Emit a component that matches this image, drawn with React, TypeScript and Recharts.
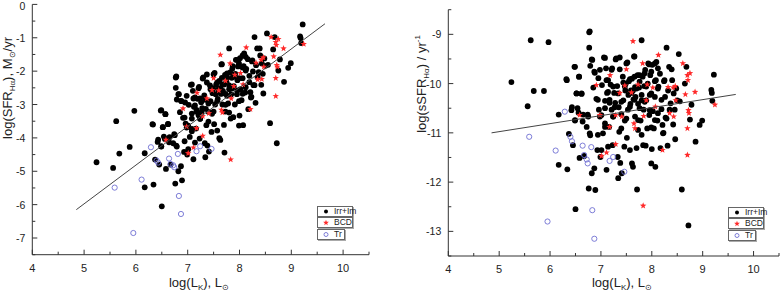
import React from 'react';
import { ScatterChart, Scatter, XAxis, YAxis } from 'recharts';

const FONT = '"Liberation Sans", Arial, sans-serif';
const AXIS = '#333';

// [log L_K, log sSFR(Hα)]
const irrIm: [number, number][] = [
  [5.24, -9.97], [5.56, -10.46], [5.62, -9.12], [5.68, -10.15], [5.88, -10.15], [5.97, -9.16],
  [6.17, -10.63], [6.17, -11.65], [6.33, -9.93], [6.34, -11.74], [6.37, -11.02], [6.43, -10.48],
  [6.45, -11.25], [6.48, -9.66], [6.49, -10.75], [6.5, -12.55], [6.52, -10.2], [6.54, -10.5],
  [6.56, -10.59], [6.57, -9.86], [6.58, -11.51], [6.62, -10.21], [6.64, -10.77], [6.65, -10.63],
  [6.67, -11.47], [6.74, -10.63], [6.76, -12.13], [6.77, -8.96], [6.78, -8.94], [6.77, -9.27],
  [6.79, -9.64], [6.78, -11.01], [6.79, -11.05], [6.82, -9.51], [6.82, -11.82], [6.85, -10.08],
  [6.87, -9.76], [6.87, -11.72], [6.89, -12.16], [6.91, -10.31], [6.93, -11.35], [6.95, -9.89],
  [6.96, -10.53], [6.98, -10.67], [6.99, -11.49], [7.01, -11.35], [7.02, -10.03], [7.04, -11.01],
  [7.06, -9.47], [7.08, -10.35], [7.08, -10.81], [7.1, -9.69], [7.11, -11.75], [7.12, -10.19],
  [7.14, -9.93], [7.14, -11.28], [7.16, -10.88], [7.17, -10.39], [7.19, -10.02], [7.21, -10.53],
  [7.22, -9.69], [7.23, -11.25], [7.24, -10.67], [7.26, -10.19], [7.28, -10.39], [7.3, -9.49],
  [7.32, -10.05], [7.33, -11.49], [7.34, -11.92], [7.35, -10.48], [7.36, -10.98], [7.37, -9.47],
  [7.38, -11.61], [7.4, -10.62], [7.41, -11.82], [7.43, -9.86], [7.44, -10.34], [7.46, -11.28],
  [7.47, -10.75], [7.48, -10.14], [7.49, -10.0], [7.51, -11.1], [7.52, -9.57], [7.53, -10.53],
  [7.54, -10.23], [7.55, -9.95], [7.57, -11.35], [7.58, -10.41], [7.59, -10.14], [7.61, -9.9],
  [7.61, -11.62], [7.63, -10.14], [7.63, -11.69], [7.64, -10.32], [7.66, -9.45], [7.67, -10.07],
  [7.67, -10.67], [7.68, -10.27], [7.7, -11.31], [7.71, -12.15], [7.72, -9.83], [7.73, -10.41],
  [7.75, -10.08], [7.76, -9.83], [7.78, -10.75], [7.8, -9.12], [7.8, -10.34], [7.82, -9.86],
  [7.83, -11.25], [7.84, -10.53], [7.85, -10.05], [7.87, -9.72], [7.88, -11.26], [7.89, -10.34],
  [7.91, -10.91], [7.92, -10.0], [7.93, -9.59], [7.95, -10.64], [7.96, -10.23], [7.97, -9.83],
  [7.99, -11.62], [8.0, -11.33], [8.01, -9.62], [8.02, -10.56], [8.04, -10.91], [8.06, -10.27],
  [8.07, -11.69], [8.08, -9.93], [8.09, -9.56], [8.11, -10.75], [8.13, -10.06], [8.16, -9.8],
  [8.17, -11.31], [8.19, -10.52], [8.21, -10.84], [8.23, -11.0], [8.24, -9.95], [8.26, -10.27],
  [8.27, -10.69], [8.29, -9.27], [8.31, -11.26], [8.32, -10.14], [8.34, -9.66], [8.35, -10.53],
  [8.37, -10.4], [8.39, -9.71], [8.4, -9.93], [8.42, -10.83], [8.43, -10.2], [8.45, -10.53],
  [8.46, -11.13], [8.48, -10.1], [8.5, -10.34], [8.53, -9.4], [8.55, -10.36], [8.59, -12.15],
  [8.65, -10.0], [8.68, -9.66], [8.72, -12.88], [8.75, -10.73], [8.78, -10.43], [8.86, -11.18],
  [8.94, -10.84], [8.99, -10.75], [9.17, -10.13], [9.18, -10.19], [9.19, -10.35], [9.22, -9.82],
  [7.08, -9.48], [7.29, -9.51], [6.83, -9.52], [7.65, -9.45], [6.49, -9.66], [7.5, -9.59],
  [8.06, -9.59], [7.95, -9.61], [6.88, -9.78], [6.98, -9.72], [7.21, -9.72], [7.37, -9.71],
  [7.66, -9.86], [7.86, -9.79], [7.99, -9.76], [8.12, -9.69], [6.32, -9.91], [6.57, -9.86],
  [7.11, -9.93], [7.44, -9.98], [7.57, -9.91], [7.76, -9.96], [8.06, -9.95], [8.25, -9.93],
  [7.24, -10.06], [7.47, -10.06], [7.7, -10.1], [7.89, -10.06], [8.12, -10.1], [6.52, -10.2],
  [6.62, -10.2], [7.14, -10.17], [7.34, -10.2], [7.6, -10.19], [7.8, -10.23], [7.99, -10.2],
  [6.94, -10.33], [7.17, -10.33], [7.4, -10.37], [7.66, -10.33], [7.86, -10.37], [8.19, -10.33],
  [7.08, -10.5], [7.27, -10.48], [7.57, -10.47], [7.76, -10.5], [7.96, -10.54], [8.12, -10.6],
  [6.42, -10.54], [6.75, -10.67], [7.01, -10.64], [7.24, -10.67], [7.5, -10.71], [7.73, -10.74],
  [8.06, -10.74], [8.29, -10.71], [6.72, -10.88], [7.08, -10.88], [7.4, -10.91], [7.73, -10.94],
  [7.99, -10.89], [6.49, -10.74], [6.94, -11.04], [7.8, -11.04], [8.22, -11.01],
];

const bcd: [number, number][] = [
  [6.58, -10.64], [6.91, -10.03], [6.98, -10.64], [7.01, -11.47], [7.11, -11.4], [7.17, -10.88],
  [7.18, -9.83], [7.29, -11.23], [7.29, -10.64], [7.37, -10.19], [7.41, -10.67], [7.47, -10.04],
  [7.5, -9.71], [7.6, -10.18], [7.63, -9.14], [7.65, -10.81], [7.67, -10.91], [7.73, -10.02],
  [7.82, -9.59], [7.84, -10.66], [7.83, -12.48], [7.89, -10.34], [7.91, -10.02], [8.02, -10.08],
  [8.07, -10.47], [8.13, -9.42], [8.21, -11.35], [8.32, -10.07], [8.35, -10.6], [8.42, -10.08],
  [8.43, -10.67], [8.46, -10.05], [8.47, -10.34], [8.61, -9.59], [8.66, -10.22], [8.7, -9.83],
  [8.71, -9.93], [8.72, -10.54], [8.73, -10.6], [8.7, -10.91], [8.7, -11.45], [8.75, -9.79],
  [8.85, -10.17], [9.24, -10.43],
];

const tr: [number, number][] = [
  [5.59, -11.08], [5.95, -12.8], [6.11, -11.36], [6.29, -10.57], [6.4, -11.08], [6.43, -11.17],
  [6.64, -11.26], [6.67, -11.45], [6.72, -11.54], [6.74, -11.62], [6.81, -11.29], [6.83, -12.57],
  [6.87, -13.15], [7.17, -11.57], [7.24, -11.49], [7.46, -11.79],
];

// fitted relation, end points
const fitLk = [4.85, 9.65];
const fitSfr = [-6.15, -0.58];
const fitSsfr = [-11.0, -10.22];

const xTicks = [4, 4.5, 5, 5.5, 6, 6.5, 7, 7.5, 8, 8.5, 9, 9.5, 10, 10.5];
const sfrTicks = [0, -0.5, -1, -1.5, -2, -2.5, -3, -3.5, -4, -4.5, -5, -5.5, -6, -6.5, -7, -7.5];
const ssfrTicks = [-8.5, -9, -9.5, -10, -10.5, -11, -11.5, -12, -12.5, -13, -13.5];

// left panel shows log SFR = log sSFR + log L_K of the same galaxies
const asSsfr = (d: [number, number][]) => d.map(([lk, v]) => ({ lk, v }));
const asSfr = (d: [number, number][]) => d.map(([lk, v]) => ({ lk, v: +(v + lk).toFixed(2) }));

const isMajor = (v: number) => Number.isInteger(v);

const BottomTick = (p: any) => {
  const v = p.payload.value;
  return (
    <g>
      <line x1={p.x} x2={p.x} y1={p.y} y2={p.y - (isMajor(v) ? 5 : 3)} stroke={AXIS} />
      {isMajor(v) && v < 10.5 && (
        <text x={p.x} y={p.y + 17} textAnchor="middle" fontSize={11} fill="#222" fontFamily={FONT}>{v}</text>
      )}
    </g>
  );
};
const TopTick = (p: any) => (
  <line x1={p.x} x2={p.x} y1={p.y} y2={p.y + (isMajor(p.payload.value) ? 5 : 3)} stroke={AXIS} />
);
const LeftTick = (p: any) => {
  const v = p.payload.value;
  return (
    <g>
      <line x1={p.x} x2={p.x + (isMajor(v) ? 5 : 3)} y1={p.y} y2={p.y} stroke={AXIS} />
      {isMajor(v) && (
        <text x={p.x - 7} y={Math.max(p.y + 4, 10)} textAnchor="end" fontSize={10.5} fill="#222" fontFamily={FONT}>{v}</text>
      )}
    </g>
  );
};
const RightTick = (p: any) => (
  <line x1={p.x} x2={p.x - (isMajor(p.payload.value) ? 5 : 3)} y1={p.y} y2={p.y} stroke={AXIS} />
);

const Dot = (p: any) => <circle cx={p.cx} cy={p.cy} r={2.9} fill="#000" />;
const Ring = (p: any) => <circle cx={p.cx} cy={p.cy} r={2.6} fill="none" stroke="#6f6fd2" strokeWidth={0.9} />;
const starPath = (cx: number, cy: number, R: number) => {
  const pts: string[] = [];
  for (let i = 0; i < 10; i++) {
    const r = i % 2 === 0 ? R : R * 0.42;
    const a = -Math.PI / 2 + (i * Math.PI) / 5;
    pts.push(`${cx + r * Math.cos(a)},${cy + r * Math.sin(a)}`);
  }
  return pts.join(' ');
};
const Star = (p: any) => <polygon points={starPath(p.cx, p.cy, 3.4)} fill="#ff2a2a" />;
const Nothing = () => <g />;

interface PanelProps {
  toY: (d: [number, number][]) => { lk: number; v: number }[];
  fitY: number[];
  yDomain: [number, number];
  yTicks: number[];
  margin: { top: number; right: number; bottom: number; left: number };
  yWidth: number;
  xHeight: number;
}

function Panel({ toY, fitY, yDomain, yTicks, margin, yWidth, xHeight }: PanelProps) {
  const fit = fitLk.map((lk, i) => ({ lk, v: fitY[i] }));
  return (
    <ScatterChart width={390} height={292} margin={margin}>
      <XAxis type="number" dataKey="lk" domain={[4, 10.5]} ticks={xTicks} interval={0} allowDataOverflow
        height={xHeight} tickSize={0} tickMargin={0} tick={BottomTick} axisLine={{ stroke: AXIS }} tickLine={false} />
      <XAxis xAxisId="top" orientation="top" type="number" dataKey="lk" domain={[4, 10.5]} ticks={xTicks} interval={0} allowDataOverflow
        height={0} tickSize={0} tickMargin={0} tick={TopTick} axisLine={{ stroke: AXIS }} tickLine={false} />
      <YAxis type="number" dataKey="v" domain={yDomain} ticks={yTicks} interval={0} allowDataOverflow
        width={yWidth} tickSize={0} tickMargin={0} tick={LeftTick} axisLine={{ stroke: AXIS }} tickLine={false} />
      <YAxis yAxisId="right" orientation="right" type="number" dataKey="v" domain={yDomain} ticks={yTicks} interval={0} allowDataOverflow
        width={0} tickSize={0} tickMargin={0} tick={RightTick} axisLine={{ stroke: AXIS }} tickLine={false} />
      <Scatter data={toY(irrIm)} shape={Dot} isAnimationActive={false} />
      <Scatter data={toY(bcd)} shape={Star} isAnimationActive={false} />
      <Scatter data={toY(tr)} shape={Ring} isAnimationActive={false} />
      <Scatter data={fit} shape={Nothing} line={{ stroke: '#444', strokeWidth: 1 }} isAnimationActive={false} />
    </ScatterChart>
  );
}

const LegendBox = ({ left, top, width, label, marker }: { left: number; top: number; width: number; label: string; marker: React.ReactNode }) => (
  <div style={{
    position: 'absolute', left, top, width, height: 9, border: '1px solid #666',
    boxShadow: '1px 1px 0 #aaa', background: '#fff', fontSize: 8.5, lineHeight: '9px', color: '#222',
    display: 'flex', alignItems: 'center', whiteSpace: 'nowrap',
  }}>
    <svg width={14} height={9} style={{ flex: 'none' }}>{marker}</svg>
    <span style={{ marginLeft: 2 }}>{label}</span>
  </div>
);

const Legend = ({ left, top }: { left: number; top: number }) => (
  <>
    <LegendBox left={left} top={top} width={34} label="Irr+Im" marker={<circle cx={8} cy={4.5} r={2} fill="#000" />} />
    <LegendBox left={left} top={top + 11} width={34} label="BCD" marker={<polygon points={starPath(8, 4.8, 3)} fill="#ff2a2a" />} />
    <LegendBox left={left} top={top + 23} width={26} label="Tr" marker={<circle cx={8} cy={4.5} r={2} fill="none" stroke="#6f6fd2" strokeWidth={0.9} />} />
  </>
);

const vTitle = (cx: number, cy: number, content: React.ReactNode) => (
  <div style={{
    position: 'absolute', left: cx, top: cy, transform: 'translate(-50%, -50%) rotate(-90deg)',
    whiteSpace: 'nowrap', fontSize: 13, color: '#222',
  }}>{content}</div>
);
const hTitle = (cx: number, cy: number, content: React.ReactNode) => (
  <div style={{
    position: 'absolute', left: cx, top: cy, transform: 'translate(-50%, -50%)',
    whiteSpace: 'nowrap', fontSize: 13, color: '#222',
  }}>{content}</div>
);
const sub = (t: string) => <sub style={{ fontSize: 8, verticalAlign: -3 }}>{t}</sub>;
const lk = <>log(L{sub('K')}), L{sub('⊙')}</>;

export default function App() {
  return (
    <div style={{ position: 'absolute', left: 0, top: 0, width: 780, height: 292, background: '#fff', fontFamily: FONT, overflow: 'hidden' }}>
      <div style={{ position: 'absolute', left: 0, top: 0 }}>
        <Panel toY={asSfr} fitY={fitSfr} yDomain={[-7.5, 0]} yTicks={sfrTicks}
          margin={{ top: 4.4, right: 21, bottom: 0, left: 0 }} yWidth={32.3} xHeight={37.3} />
      </div>
      <div style={{ position: 'absolute', left: 390, top: 0 }}>
        <Panel toY={asSsfr} fitY={fitSsfr} yDomain={[-13.5, -8.5]} yTicks={ssfrTicks}
          margin={{ top: 9.7, right: 1, bottom: 0, left: 0 }} yWidth={58.3} xHeight={36} />
      </div>
      <Legend left={317} top={206} />
      <Legend left={728} top={207} />
      {hTitle(199, 283, lk)}
      {hTitle(622, 283, lk)}
      {vTitle(8, 88, <>log(SFR{sub('Hα')}), M{sub('⊙')}/yr</>)}
      {vTitle(422, 84, <>log(sSFR{sub('Hα')}) / yr<sup style={{ fontSize: 8 }}>-1</sup></>)}
    </div>
  );
}
